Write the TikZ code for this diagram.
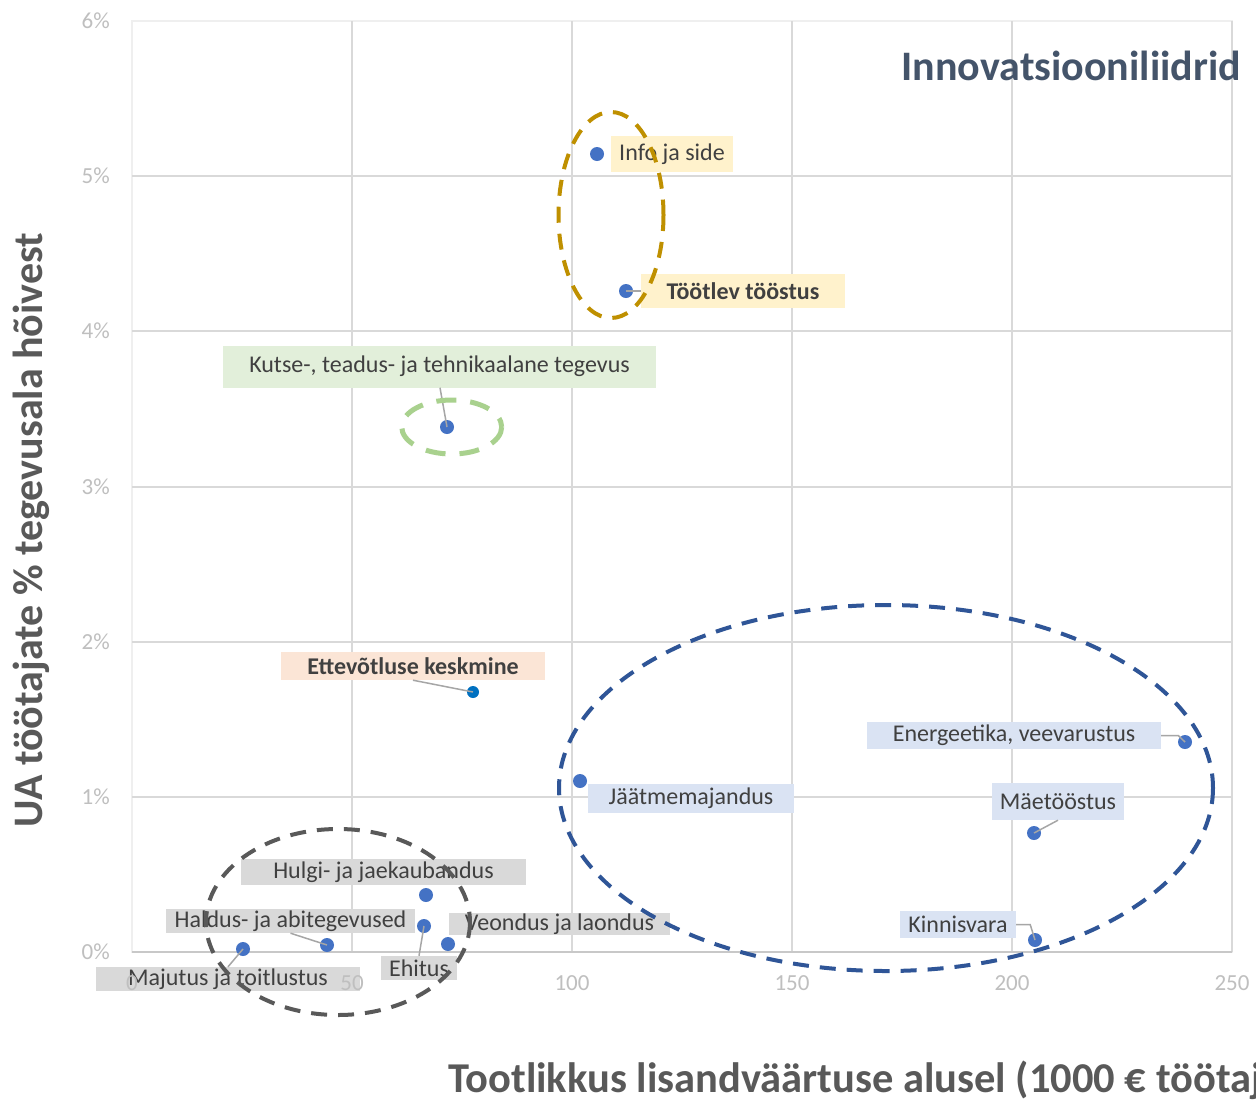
\documentclass[tikz,border=0pt]{standalone}
\usepackage{fontspec}
\setmainfont{Carlito}
\definecolor{gridc}{HTML}{D9D9D9}
\definecolor{framec}{HTML}{EFEFEF}
\definecolor{axisc}{HTML}{C8C8C8}
\definecolor{tickc}{HTML}{BFBFBF}
\definecolor{txt}{HTML}{404040}
\definecolor{axtitle}{HTML}{595959}
\definecolor{titlec}{HTML}{44546A}
\definecolor{dotc}{HTML}{4472C4}
\definecolor{avgdot}{HTML}{0070C0}
\definecolor{leadc}{HTML}{A6A6A6}
\definecolor{yelbox}{HTML}{FFF2CC}
\definecolor{grnbox}{HTML}{E2EFDA}
\definecolor{orgbox}{HTML}{FBE5D6}
\definecolor{blubox}{HTML}{DAE3F3}
\definecolor{grybox}{HTML}{D9D9D9}
\definecolor{goldc}{HTML}{BF9000}
\definecolor{greenc}{HTML}{A9D18E}
\definecolor{bluec}{HTML}{2F5597}
\definecolor{darkc}{HTML}{595959}
\begin{document}
\begin{tikzpicture}[x=1pt,y=-1pt,
  gridline/.style={draw=gridc, line width=1.3pt},
  lbl/.style={inner sep=0pt, text=txt, font=\fontsize{24}{28}\selectfont},
  ticklbl/.style={inner sep=0pt, text=tickc, font=\fontsize{23}{27}\selectfont},
  dot/.style={circle, fill=dotc, minimum size=14pt, inner sep=0pt},
  lead/.style={draw=leadc, line width=1.5pt},
  ring/.style={line width=4pt, dash pattern=on 16pt off 11pt}]
\clip (0,0) rectangle (1256,1101);
\fill[white] (0,0) rectangle (1256,1101);
% plot frame and grid
\draw[framec, line width=1.2pt] (132,21) rectangle (1232,952);
\foreach \yy in {176,331,487,642,797} \draw[gridline] (132,\yy) -- (1232,\yy);
\foreach \xx in {352,572,792,1012,1232} \draw[gridline] (\xx,21) -- (\xx,952);
\draw[axisc, line width=1.5pt] (132,952) -- (1232,952);
% titles
\node[text=titlec, font=\fontsize{42}{50}\selectfont\bfseries, anchor=east, inner sep=0pt] (title) at (1241,66) {Innovatsiooniliidrid};
\node[text=axtitle, font=\fontsize{42}{50}\selectfont\bfseries, rotate=90, inner sep=0pt] (ytitle) at (31,530) {UA töötajate \% tegevusala hõivest};
\node[text=axtitle, font=\fontsize{42.5}{50}\selectfont\bfseries, anchor=west, inner sep=0pt] (xtitle) at (448,1080) {Tootlikkus lisandväärtuse alusel (1000 € töötaj};
% label boxes
\node[lbl, fill=yelbox, minimum width=122pt, minimum height=36pt] (linfo) at (672,154) {Info ja side};
\node[lbl, fill=yelbox, minimum width=204pt, minimum height=34pt, font=\fontsize{24}{28}\selectfont\bfseries] (ltoot) at (743,291) {Töötlev tööstus};
\node[lbl, fill=grnbox, minimum width=433pt, minimum height=42pt] (lkutse) at (439.5,366.5) {Kutse-, teadus- ja tehnikaalane tegevus};
\node[lbl, fill=orgbox, minimum width=264pt, minimum height=28pt, font=\fontsize{24}{28}\selectfont\bfseries] (lavg) at (413,666) {Ettevõtluse keskmine};
\node[lbl, fill=blubox, minimum width=206pt, minimum height=29pt] (ljaat) at (691,798.5) {Jäätmemajandus};
\node[lbl, fill=blubox, minimum width=294pt, minimum height=27pt] (lenerg) at (1014,735.5) {Energeetika, veevarustus};
\node[lbl, fill=blubox, minimum width=132pt, minimum height=37pt] (lmae) at (1058,801.5) {Mäetööstus};
\node[lbl, fill=blubox, minimum width=116pt, minimum height=27pt] (lkinn) at (958,924.5) {Kinnisvara};
\node[lbl, fill=grybox, minimum width=285pt, minimum height=26pt] (lhulgi) at (383.5,872) {Hulgi- ja jaekaubandus};
\node[lbl, fill=grybox, minimum width=249pt, minimum height=24pt] (lhaldus) at (290.5,921) {Haldus- ja abitegevused};
\node[lbl, fill=grybox, minimum width=221pt, minimum height=22pt] (lveond) at (559.5,924) {Veondus ja laondus};
\node[lbl, fill=grybox, minimum width=76pt, minimum height=24pt] (lehit) at (419,968) {Ehitus};
\node[lbl, fill=grybox, minimum width=264pt, minimum height=24pt] (lmaj) at (228,979) {Majutus ja toitlustus};
% tick labels (drawn over the label boxes, as in the chart)
\node[ticklbl, anchor=east] (y6) at (110,21) {6\%};
\node[ticklbl, anchor=east] (y5) at (110,176) {5\%};
\node[ticklbl, anchor=east] (y4) at (110,331) {4\%};
\node[ticklbl, anchor=east] (y3) at (110,487) {3\%};
\node[ticklbl, anchor=east] (y2) at (110,642) {2\%};
\node[ticklbl, anchor=east] (y1) at (110,797) {1\%};
\node[ticklbl, anchor=east] (y0) at (110,952) {0\%};
\node[ticklbl] (x0) at (132,983) {0};
\node[ticklbl] (x50) at (352,983) {50};
\node[ticklbl] (x100) at (572,983) {100};
\node[ticklbl] (x150) at (792,983) {150};
\node[ticklbl] (x200) at (1012,983) {200};
\node[ticklbl] (x250) at (1232,983) {250};
% data points
\node[dot] (dinfo) at (597,154) {};
\node[dot] (dtoot) at (626,291) {};
\node[dot] (dkutse) at (447,427) {};
\node[dot, fill=avgdot, minimum size=12pt] (davg) at (473,692) {};
\node[dot] (djaat) at (580,781) {};
\node[dot] (denerg) at (1185,742) {};
\node[dot] (dmae) at (1034,833) {};
\node[dot] (dkinn) at (1035,940) {};
\node[dot] (dhulgi) at (426,895) {};
\node[dot] (dhaldus) at (327,945) {};
\node[dot] (dmaj) at (243,949) {};
\node[dot] (dehit) at (424,926) {};
\node[dot] (dveond) at (448,944) {};
% leader lines
\draw[lead] (dtoot.center) -- (ltoot.west);
\draw[lead] (lkutse.south -| 440,0) -- (dkutse.center);
\draw[lead] (lavg.south) -- (davg.center);
\draw[lead] (lenerg.east) -- ++(17,0) -- (denerg.center);
\draw[lead] (lmae.south) -- (dmae.center);
\draw[lead] (lkinn.east) -- ++(14,0) -- (dkinn.center);
\draw[lead] (lhaldus.south) -- (dhaldus.center);
\draw[lead] (dehit.center) -- (lehit.north);
\draw[lead] (lmaj.north) -- (dmaj.center);
% highlight rings
\draw[ring, goldc] (611,215) ellipse [x radius=52.5, y radius=103];
\draw[ring, greenc, line width=5pt, dash pattern=on 20pt off 14pt] (451.7,427) ellipse [x radius=50, y radius=27];
\draw[ring, bluec] (886,788) ellipse [x radius=327, y radius=183];
\draw[ring, darkc] (338,922) ellipse [x radius=132, y radius=93];
\end{tikzpicture}
\end{document}
